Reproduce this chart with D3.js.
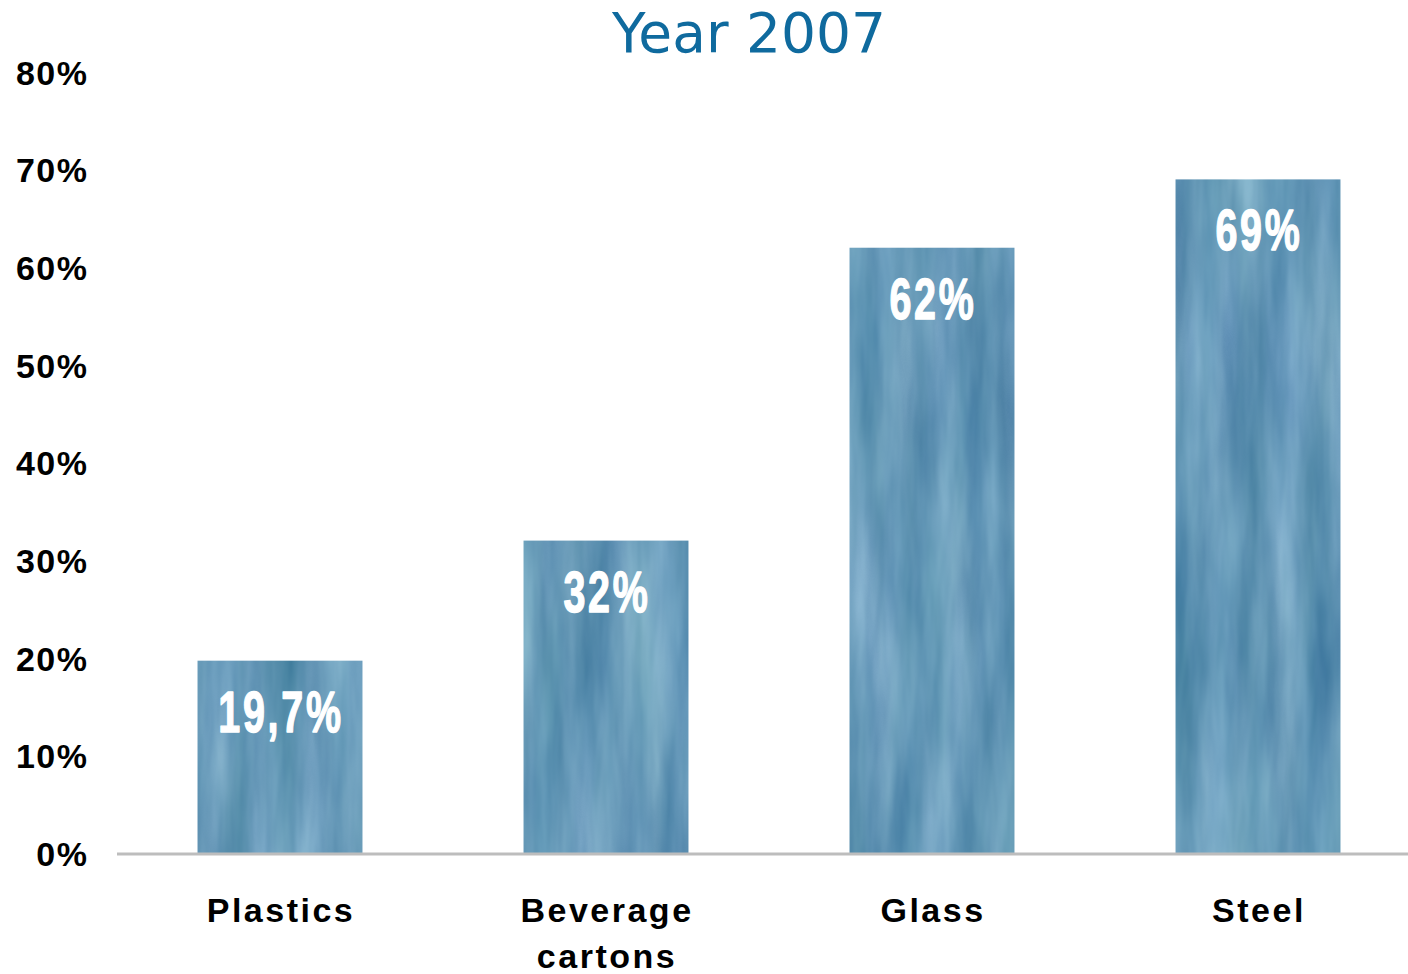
<!DOCTYPE html>
<html>
<head>
<meta charset="utf-8">
<script src="https://cdn.jsdelivr.net/npm/d3@7"></script>
<style>
  html, body { margin: 0; padding: 0; background: #ffffff; }
  svg { display: block; }
</style>
</head>
<body>
<svg id="chart" width="1408" height="974"></svg>
<script>
// ---- data ----
const title = "Year 2007";
const categories = ["Plastics", "Beverage cartons", "Glass", "Steel"];
const categoryLines = [["Plastics"], ["Beverage", "cartons"], ["Glass"], ["Steel"]];
const values = [19.7, 32, 62, 69];
const valueLabels = ["19,7%", "32%", "62%", "69%"];
const yTicks = [0, 10, 20, 30, 40, 50, 60, 70, 80];

// ---- layout ----
const W = 1408, H = 974;
const svg = d3.select("#chart");

const x = d3.scaleBand()
  .domain(categories)
  .range([117, 1421])
  .paddingInner(0.494)
  .paddingOuter(0.247);

const y = d3.scaleLinear().domain([0, 80]).range([853, 72]);

// texture filter for bars
const defs = svg.append("defs");
const f = defs.append("filter")
  .attr("id", "paint")
  .attr("x", "0").attr("y", "0").attr("width", "1").attr("height", "1")
  .attr("color-interpolation-filters", "sRGB");
f.append("feTurbulence")
  .attr("type", "fractalNoise")
  .attr("baseFrequency", "0.03 0.004")
  .attr("numOctaves", 4)
  .attr("seed", 11)
  .attr("result", "noise");
f.append("feColorMatrix")
  .attr("in", "noise")
  .attr("type", "matrix")
  .attr("values",
    "0.36 0 0 0 0.22 " +
    "0.30 0 0 0.04 0.43 " +
    "0.24 0 0.04 0 0.58 " +
    "0 0 0 0 1")
  .attr("result", "col");
f.append("feComposite")
  .attr("in", "col")
  .attr("in2", "SourceGraphic")
  .attr("operator", "in");

// title
svg.append("text")
  .attr("x", 749).attr("y", 52)
  .attr("text-anchor", "middle")
  .attr("font-family", "'DejaVu Sans', Verdana, sans-serif")
  .attr("font-size", 55)
  .attr("fill", "#0f6a9e")
  .text(title);

// y axis labels (no axis line)
const yAxis = d3.axisLeft(y).tickValues(yTicks).tickSize(0).tickPadding(0)
  .tickFormat(d => d + "%");
const gy = svg.append("g").attr("transform", "translate(88.5,0)").call(yAxis);
gy.select(".domain").remove();
gy.selectAll("text")
  .attr("font-family", "'Liberation Sans', Arial, sans-serif")
  .attr("font-weight", "bold")
  .attr("font-size", 34)
  .attr("letter-spacing", 1.5)
  .attr("fill", "#000")
  .attr("dy", "0.36em");

// bars
svg.append("g").selectAll("rect")
  .data(categories)
  .join("rect")
  .attr("x", d => x(d))
  .attr("width", x.bandwidth())
  .attr("y", (d, i) => y(values[i]))
  .attr("height", (d, i) => y(0) - y(values[i]))
  .attr("fill", "#5e92b8")
  .attr("filter", "url(#paint)");

// x axis line
svg.append("line")
  .attr("x1", 117).attr("x2", W)
  .attr("y1", y(0) + 1).attr("y2", y(0) + 1)
  .attr("stroke", "#bdbdbd")
  .attr("stroke-width", 3);

// value labels (condensed, heavy)
svg.append("g").selectAll("text")
  .data(categories)
  .join("text")
  .attr("transform", (d, i) =>
    `translate(${x(d) + x.bandwidth() / 2 + 1},${y(values[i]) + 71}) scale(0.68,1)`)
  .attr("text-anchor", "middle")
  .attr("font-family", "'Liberation Sans', Arial, sans-serif")
  .attr("font-weight", "bold")
  .attr("font-size", 58)
  .attr("letter-spacing", 4)
  .attr("fill", "#ffffff")
  .attr("stroke", "#ffffff")
  .attr("stroke-width", 1.4)
  .attr("stroke-linejoin", "round")
  .text((d, i) => valueLabels[i]);

// category labels
const xl = svg.append("g").selectAll("text")
  .data(categories)
  .join("text")
  .attr("y", 922)
  .attr("text-anchor", "middle")
  .attr("font-family", "'Liberation Sans', Arial, sans-serif")
  .attr("font-weight", "bold")
  .attr("font-size", 34)
  .attr("letter-spacing", 2.5)
  .attr("fill", "#000");
xl.each(function(d, i) {
  const t = d3.select(this);
  categoryLines[i].forEach((line, j) => {
    t.append("tspan")
      .attr("x", x(d) + x.bandwidth() / 2 + 1)
      .attr("dy", j === 0 ? 0 : 46)
      .text(line);
  });
});
</script>
</body>
</html>
